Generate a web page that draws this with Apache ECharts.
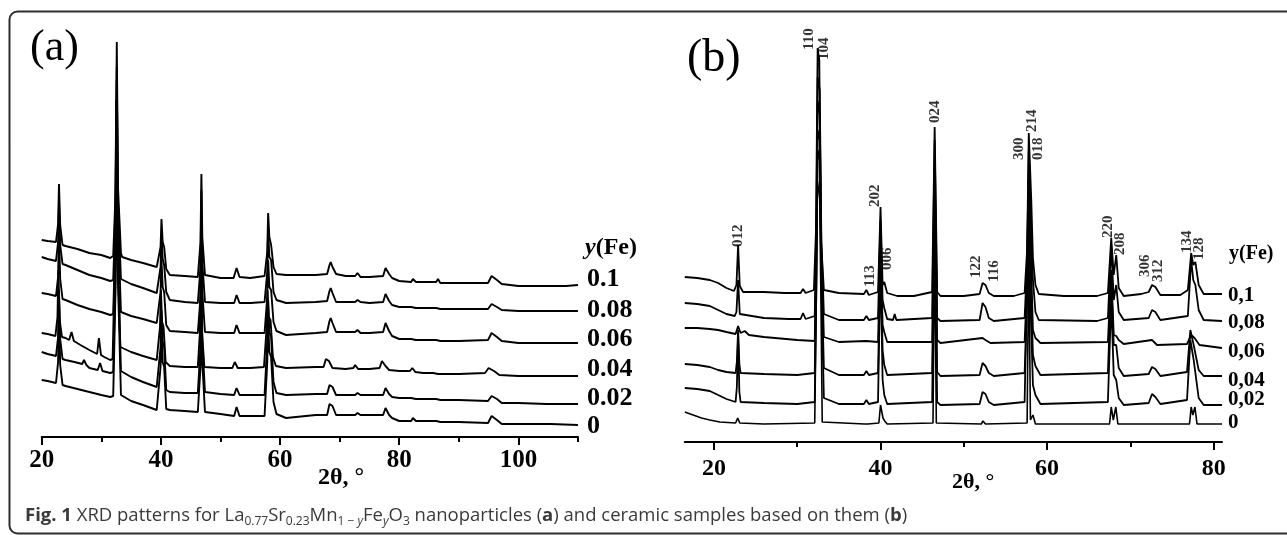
<!DOCTYPE html>
<html><head><meta charset="utf-8">
<script src="https://cdn.jsdelivr.net/npm/echarts@6/dist/echarts.min.js"></script>
<style>html,body{margin:0;padding:0;background:#fff}#c{width:1287px;height:535px}</style>
</head><body><div id="c"></div>
<script>
// ---------- Panel (a): nanoparticles, intensity (a.u., stacked) vs 2θ ----------
const aMajorTicks = [20, 40, 60, 80, 100];
const aMinorTicks = [30, 50, 70, 90, 110];
const aNames = ['0.1', '0.08', '0.06', '0.04', '0.02', '0'];
const a010 = [[20,197],[21,196],[22.4,195],[22.75,213],[22.9,253],[23.1,212],[23.5,192],[24,191],[26,188],[28,184],[30,182],[31.5,179],[32,181],[32.4,245],[32.6,395],[32.8,250],[33.3,184],[33.5,180],[35,177],[37,174],[39.3,170],[39.6,171],[39.95,190],[40.1,218],[40.3,195],[40.55,190],[40.9,168],[41.5,162],[44,161],[46.2,160],[46.3,161],[46.65,195],[46.8,263],[46.95,200],[47.4,162],[50,159],[52.2,159],[52.7,169],[53.2,160],[55,159],[57.4,161],[57.5,162],[57.85,185],[58,224],[58.2,200],[58.5,192],[58.9,170],[59.4,163],[61,162],[63,162],[66,162],[67.9,163],[68.3,172],[68.5,175],[68.8,170],[69.4,163],[71,161],[72.6,161],[73,164],[73.5,160],[75,160],[77.3,161],[77.7,169],[77.9,170],[78.3,163],[78.8,159],[80,156],[82,155],[82.3,158],[82.8,155],[84,155],[86.2,155],[86.5,158],[86.9,154],[90,154],[94.9,154],[95.5,161],[95.8,162],[96.4,157],[97.2,153],[100,151],[104.7,151],[105,153],[105.4,151],[108,151],[110,152]];
const a008 = [[20,180],[21,178],[22.4,176],[22.75,195],[22.9,235],[23.1,192],[23.5,173],[24,172],[26,167],[28,162],[30,159],[31.5,156],[32,157],[32.4,230],[32.6,370],[32.8,235],[33.3,158],[33.5,157],[35,153],[37,149],[39.3,144],[39.6,145],[39.95,170],[40.1,202],[40.3,178],[40.55,172],[40.9,145],[41.5,137],[44,135],[46.2,134],[46.3,135],[46.65,170],[46.8,247],[46.95,175],[47.4,135],[50,134],[52.3,134],[52.7,142],[53.2,134],[55,134],[57.4,135],[57.5,135],[57.85,165],[58,207],[58.2,180],[58.5,177],[58.9,145],[59.4,137],[61,134],[66,135],[67.9,136],[68.3,146],[68.5,149],[68.8,144],[69.4,135],[71,135],[72.6,135],[73,137],[73.5,135],[75,134],[77.3,135],[77.7,143],[77.9,144],[78.3,136],[78.8,132],[80,130],[82,130],[82.3,132],[82.8,129],[84,129],[86.2,129],[86.5,131],[86.9,128],[90,128],[94.9,128],[95.5,133],[95.8,134],[96.4,130],[97.2,127],[100,126],[104.7,126],[105,128],[105.4,126],[110,126]];
const a006 = [[20,144],[21,143],[22.4,141],[22.75,160],[22.9,207],[23.1,158],[23.5,138],[24,137],[26,132],[28,128],[30,125],[31.5,122],[32,123],[32.4,210],[32.6,357],[32.8,215],[33.3,125],[33.5,124],[35,121],[37,118],[39.3,114],[39.6,115],[39.95,145],[40.1,177],[40.3,150],[40.55,145],[40.9,112],[41.5,106],[44,105],[46.2,104],[46.3,105],[46.65,140],[46.8,217],[46.95,145],[47.4,105],[50,104],[52.3,104],[52.7,112],[53.2,104],[55,104],[57.4,104],[57.5,104],[57.85,140],[58,177],[58.2,150],[58.5,147],[58.9,115],[59.4,106],[61,102],[66,104],[67.9,105],[68.3,116],[68.5,119],[68.8,114],[69.4,105],[71,105],[72.6,105],[73,107],[73.5,104],[75,104],[77.3,105],[77.7,114],[77.9,115],[78.3,106],[78.8,101],[80,98],[82,98],[82.3,100],[82.8,97],[84,97],[86.2,97],[86.5,99],[86.9,96],[90,96],[94.9,97],[95.5,104],[95.8,105],[96.4,100],[97.2,96],[100,94],[104.7,94],[105,96],[105.4,94],[110,94]];
const a004 = [[20,104],[21,103],[22.3,101],[22.65,120],[22.8,167],[23,118],[23.4,100],[24,99],[24.6,97],[25,105],[25.4,96],[26.5,92],[28,87],[29.3,83],[29.6,99],[29.95,82],[30.5,80],[31.5,77],[31.9,78],[32.3,180],[32.5,337],[32.7,190],[33.2,90],[33.5,89],[35,85],[37,81],[39.3,77],[39.5,77],[39.85,110],[40,147],[40.2,115],[40.45,110],[40.8,75],[41.5,71],[44,70],[46.2,70],[46.55,105],[46.7,187],[46.85,110],[47.3,70],[50,69],[52,69],[52.4,75],[52.9,69],[55,69],[57.3,70],[57.4,70],[57.75,110],[57.9,147],[58.1,120],[58.4,117],[58.8,80],[59.3,71],[61,69],[66,70],[67.3,70],[67.7,78],[67.9,80],[68.2,76],[68.8,69],[71,68],[72.3,69],[72.6,72],[73.1,68],[75,68],[76.7,69],[77.1,76],[77.3,77],[77.7,71],[78.3,67],[80,66],[81.8,66],[82.2,69],[82.7,65],[84,64],[85.7,64],[86,66],[86.5,63],[90,63],[94.4,64],[95,69],[95.2,70],[95.9,66],[96.8,62],[100,61],[104.5,61],[104.8,62],[105.2,61],[110,61]];
const a002 = [[20,85],[21,83],[22.4,81],[22.75,100],[22.9,147],[23.1,98],[23.5,78],[24,77],[25.5,75],[26.8,73],[27.1,77],[27.5,72],[28,69],[29.4,67],[29.8,74],[30.2,66],[31.5,64],[32,65],[32.4,170],[32.6,317],[32.8,175],[33.3,66],[33.5,64],[35,60],[37,55],[39.3,50],[39.6,50],[39.95,90],[40.1,127],[40.3,95],[40.55,90],[40.9,47],[41.5,45],[44,44],[46.2,44],[46.3,45],[46.65,90],[46.8,167],[46.95,95],[47.4,45],[50,43],[52.3,42],[52.7,49],[53.2,42],[55,42],[57.4,42],[57.5,42],[57.85,95],[58,137],[58.2,105],[58.5,100],[58.9,55],[59.4,44],[61,42],[66,43],[67.9,43],[68.3,52],[68.5,54],[68.8,50],[69.4,42],[71,42],[72.6,42],[73,44],[73.5,42],[75,42],[77.3,42],[77.7,49],[77.9,50],[78.3,43],[78.8,40],[80,39],[82,39],[82.3,41],[82.8,38],[84,38],[86.2,38],[86.5,40],[86.9,37],[90,37],[94.9,36],[95.5,41],[95.8,42],[96.4,38],[97.2,34],[100,34],[104.7,33],[105,35],[105.4,33],[110,33]];
const a000 = [[20,57],[21,56],[22.4,54],[22.75,75],[22.9,137],[23.1,72],[23.5,52],[24,51],[26,48],[28,45],[30,42],[31.5,40],[32,41],[32.4,150],[32.6,287],[32.8,155],[33.3,42],[33.5,40],[35,36],[37,32],[39.3,27],[39.6,27],[39.95,70],[40.1,107],[40.3,75],[40.55,70],[40.9,28],[41.5,27],[44,26],[46.2,25],[46.3,25],[46.65,70],[46.8,147],[46.95,75],[47.4,25],[50,23],[52.3,21],[52.7,30],[53.2,21],[55,21],[57.4,21],[57.5,21],[57.85,75],[58,117],[58.2,85],[58.5,80],[58.9,35],[59.4,23],[61,19],[66,22],[67.9,22],[68.3,33],[68.5,35],[68.8,31],[69.4,22],[71,22],[72.6,22],[73,24],[73.5,22],[75,22],[77.3,22],[77.7,29],[77.9,30],[78.3,22],[78.8,19],[80,16],[82,16],[82.3,19],[82.8,16],[84,16],[86.2,16],[86.5,18],[86.9,15],[90,15],[94.9,14],[95.5,21],[95.8,22],[96.4,17],[97.2,13],[100,13],[104.7,13],[105,15],[105.4,13],[110,12]];

// ---------- Panel (b): ceramics ----------
const bMajorTicks = [20, 40, 60, 80];
const bMinorTicks = [30, 50, 70];
const bNames = ['0,1', '0,08', '0,06', '0,04', '0,02', '0'];
const b010 = [[16.5,165],[18,164],[19.5,162],[20.5,159],[21.5,154],[22.4,151],[22.7,157],[22.9,197],[23.1,156],[23.5,150],[26,150],[28.5,149],[30.4,149],[30.7,153],[31,149],[32,152],[32.25,212],[32.45,394],[32.65,382],[32.85,202],[33.2,152],[35,149],[38,148],[38.3,152],[38.6,147],[39.7,150],[40,235],[40.25,157],[40.45,160],[40.8,149],[42,146],[44,146],[46.2,150],[46.5,315],[46.8,150],[47.2,146],[50,146],[51.9,148],[52.25,159],[52.6,157],[53,149],[53.6,146],[56,146],[57.3,149],[57.6,192],[57.8,309],[58.1,242],[58.3,184],[58.6,157],[59,148],[62,146],[66,146],[67.3,149],[67.7,204],[68,167],[68.3,187],[68.6,154],[69.2,146],[71.3,148],[72.2,150],[72.6,157],[73,155],[73.6,147],[76,147],[76.9,152],[77.3,189],[77.55,177],[77.8,180],[78.2,157],[78.8,148],[81,148]];
const b008 = [[16.5,139],[18,138],[19.5,136],[20.5,132],[21.5,128],[22.5,126],[22.7,130],[22.9,162],[23.1,128],[23.3,126],[26,124],[29,123],[30.4,123],[30.7,129],[31,123],[32.1,126],[32.3,220],[32.45,365],[32.7,352],[32.9,200],[33.2,128],[35,122],[38,122],[38.3,126],[38.6,122],[39.7,124],[40,222],[40.25,142],[40.45,134],[40.8,123],[41.5,122],[41.7,128],[41.9,122],[46.2,124],[46.5,302],[46.8,124],[47.2,121],[51.9,122],[52.25,139],[52.6,135],[53,124],[53.6,121],[57.3,124],[57.6,180],[57.8,292],[58.1,202],[58.3,162],[58.6,130],[59,122],[66,121],[67.3,124],[67.7,197],[68,142],[68.3,157],[68.6,130],[69.2,122],[72.2,124],[72.6,132],[73,130],[73.6,122],[76.9,126],[77.3,182],[77.55,162],[77.8,157],[78.2,132],[78.8,122],[81,121]];
const b006 = [[16.5,114],[18,114],[19.5,113],[20.5,112],[21.5,110],[22.6,108],[22.9,116],[23.2,109],[23.7,111],[24.2,107],[26,105],[30,102],[32.1,101],[32.3,200],[32.45,342],[32.7,327],[32.9,190],[33.2,105],[35,100],[38.3,101],[39.7,100],[40,202],[40.25,117],[40.45,110],[40.8,100],[46.2,100],[46.5,277],[46.8,102],[47.2,99],[52.25,104],[52.6,102],[53.2,99],[57.3,100],[57.6,160],[57.8,267],[58.1,172],[58.3,112],[58.6,104],[59.2,99],[67.3,100],[67.7,172],[68,107],[68.3,106],[68.6,102],[69.2,98],[72.6,102],[73.2,97],[76.8,98],[77.3,107],[77.7,104],[78.3,97],[81,94]];
const b004 = [[16.5,78],[18,77],[19.5,75],[20.5,72],[21.5,70],[22.6,69],[22.75,80],[22.9,112],[23.05,78],[23.2,69],[26,68],[30,67],[32.1,69],[32.3,180],[32.45,312],[32.7,302],[32.9,170],[33.2,74],[35,67],[38,67],[38.3,71],[38.6,67],[39.7,69],[40,192],[40.25,92],[40.45,77],[40.8,67],[46.2,69],[46.5,252],[46.8,70],[47.2,66],[51.9,67],[52.25,79],[52.6,76],[53,69],[53.6,66],[57.3,69],[57.6,140],[57.8,242],[58.1,142],[58.3,87],[58.6,76],[59.2,67],[67.3,69],[67.7,162],[68,97],[68.3,97],[68.6,74],[69.2,66],[72.2,68],[72.6,75],[73,73],[73.6,66],[76.8,70],[77.2,112],[77.6,97],[78.2,72],[78.8,66],[81,66]];
const b002 = [[16.5,54],[18,53],[19.5,51],[20.5,47],[21.5,43],[22.6,40],[22.75,55],[22.9,107],[23.05,50],[23.2,40],[26,39],[30,38],[32.1,40],[32.3,160],[32.45,292],[32.7,282],[32.9,150],[33.2,44],[35,38],[38,38],[38.3,42],[38.6,38],[39.7,40],[40,182],[40.25,62],[40.45,47],[40.8,38],[46.2,40],[46.5,232],[46.8,40],[47.2,37],[51.9,38],[52.25,50],[52.6,48],[53,40],[53.6,37],[57.3,40],[57.5,120],[57.7,222],[58.1,112],[58.3,57],[58.6,47],[59.2,38],[67.3,40],[67.7,142],[68,67],[68.3,62],[68.6,44],[69.2,37],[72.2,39],[72.6,48],[73,45],[73.6,38],[76.8,42],[77.2,102],[77.6,82],[78.2,44],[78.8,37],[81,37]];
const b000 = [[16.5,30],[17.5,27],[18.5,24],[19.5,22],[20.7,20],[22.6,19],[22.85,24],[23.1,19],[26,18],[32.1,19],[32.3,150],[32.4,262],[32.6,250],[32.7,242],[32.85,140],[33,20],[38.1,18],[38.3,20],[38.5,18],[39.8,19],[40,37],[40.3,24],[40.5,21],[40.8,18],[46.3,19],[46.5,212],[46.7,19],[52.1,18],[52.3,21],[52.6,18],[57.6,19],[57.8,192],[58,22],[58.3,27],[58.6,18],[67.5,18],[67.7,35],[67.95,22],[68.25,35],[68.5,18],[72.5,18],[72.7,20],[73,18],[77.1,18],[77.3,35],[77.5,27],[77.75,35],[78,18],[81,18]];

// Miller-index annotations of panel (b): text, 2θ position, intensity of the label's foot
const hklText = ['012','110','104','113','202','006','024','122','116','300','214','018','220','208','306','312','134','128'];
const hklX    = [22.85, 31.4, 33.2, 38.8, 39.4, 40.85, 46.5, 51.5, 53.6, 56.7, 58.2, 58.9, 67.3, 68.8, 71.8, 73.3, 76.8, 78.3];
const hklY    = [195, 392, 382, 155, 235, 172, 319, 164, 160, 282, 310, 282, 204, 187, 165, 160, 189, 182];

const aSeriesData = [a010, a008, a006, a004, a002, a000];
const bSeriesData = [b010, b008, b006, b004, b002, b000];
const aLabelDy = [-6, -1, -4, -7, -6, 1];
const bLabelDy = [2, 2, 4, 5, -5, -1];

const SERIF = '"Liberation Serif", "Times New Roman", serif';
const SANS = '"Open Sans", sans-serif';
const chart = echarts.init(document.getElementById('c'), null, {renderer: 'canvas'});

function majorAxis(grid, min, max, ticks, labelMargin, fs) {
  return {
    type: 'value', gridIndex: grid, position: 'bottom', min: min, max: max,
    axisLine: {show: true, onZero: false, lineStyle: {color: '#000', width: 2}},
    axisTick: {show: true, customValues: ticks, length: 8, lineStyle: {color: '#000', width: 2}},
    axisLabel: {show: true, customValues: ticks, margin: labelMargin, color: '#000',
      fontFamily: SERIF, fontWeight: 'bold', fontSize: fs},
    splitLine: {show: false}
  };
}
function minorAxis(grid, min, max, ticks) {
  return {
    type: 'value', gridIndex: grid, position: 'bottom', min: min, max: max,
    axisLine: {show: false, onZero: false},
    axisTick: {show: true, customValues: ticks, length: 5, lineStyle: {color: '#000', width: 2}},
    axisLabel: {show: false}, splitLine: {show: false}
  };
}

const series = [];
aSeriesData.forEach((d, i) => series.push({
  type: 'line', name: aNames[i], xAxisIndex: 0, yAxisIndex: 0, data: d,
  symbol: 'none', lineStyle: {color: '#000', width: 1.9}, z: 3,
  endLabel: {show: true, formatter: aNames[i], distance: 9, offset: [0, aLabelDy[i]],
    color: '#000', fontFamily: SERIF, fontWeight: 'bold', fontSize: 26}
}));
bSeriesData.forEach((d, i) => series.push({
  type: 'line', name: bNames[i], xAxisIndex: 2, yAxisIndex: 1, data: d,
  symbol: 'none', lineStyle: {color: '#000', width: i === 5 ? 1.6 : 1.8}, z: 3,
  endLabel: {show: true, formatter: bNames[i], distance: 6, offset: [0, bLabelDy[i]],
    color: '#000', fontFamily: SERIF, fontWeight: 'bold', fontSize: 21}
}));
series.push({
  type: 'scatter', xAxisIndex: 2, yAxisIndex: 1, symbolSize: 0, silent: true, z: 4,
  data: hklX.map((x, i) => ({value: [x, hklY[i]], name: hklText[i]})),
  label: {show: true, position: 'inside', rotate: 90, align: 'left', verticalAlign: 'middle',
    formatter: p => p.name, color: '#000', fontFamily: SERIF, fontWeight: 'bold', fontSize: 15}
});

const option = {
  animation: false,
  backgroundColor: '#fff',
  grid: [
    {left: 41.7, top: 37, width: 536.3, height: 400, containLabel: false},
    {left: 684.8, top: 42, width: 537.2, height: 400, containLabel: false}
  ],
  xAxis: [
    majorAxis(0, 20, 110, aMajorTicks, 11, 25),
    minorAxis(0, 20, 110, aMinorTicks),
    majorAxis(1, 16.5, 81, bMajorTicks, 15, 24),
    minorAxis(1, 16.5, 81, bMinorTicks)
  ],
  yAxis: [
    {type: 'value', gridIndex: 0, min: 0, max: 400, show: false},
    {type: 'value', gridIndex: 1, min: 0, max: 400, show: false}
  ],
  series: series,
  graphic: [
    {type: 'rect', shape: {x: 9.5, y: 11.5, width: 1290, height: 522, r: 8},
     style: {fill: 'none', stroke: '#2e2e2e', lineWidth: 2}, silent: true},
    {type: 'text', left: 30, top: 26, style: {text: '(a)', font: 'normal 44px ' + SERIF, fill: '#000'}},
    {type: 'text', left: 687, top: 36, style: {text: '(b)', font: 'normal 46px ' + SERIF, fill: '#000'}},
    {type: 'text', left: 585, top: 236, style: {text: '{i|y}(Fe)', font: 'bold 24px ' + SERIF, fill: '#000',
      rich: {i: {fontStyle: 'italic', fontWeight: 'bold', fontSize: 24, fontFamily: SERIF}}}},
    {type: 'text', left: 1229, top: 244, style: {text: 'y(Fe)', font: 'bold 20px ' + SERIF, fill: '#000'}},
    {type: 'text', left: 318, top: 466, style: {text: '2θ, °', font: 'bold 24px ' + SERIF, fill: '#000'}},
    {type: 'text', left: 952, top: 471, style: {text: '2θ, °', font: 'bold 22px ' + SERIF, fill: '#000'}},
    {type: 'text', left: 25, top: 506, style: {
      text: '{b|Fig. 1} XRD patterns for La{s|0.77}Sr{s|0.23}Mn{s|1 − }{si|y}Fe{si|y}O{s|3} nanoparticles ({b|a}) and ceramic samples based on them ({b|b})',
      font: 'normal 18.5px ' + SANS, fill: '#3a3a3a',
      rich: {
        b: {fontWeight: 'bold', fontSize: 18.5, fontFamily: SANS, lineHeight: 24, verticalAlign: 'middle', color: '#2a2a2a'},
        s: {fontSize: 12, fontFamily: SANS, lineHeight: 13, verticalAlign: 'bottom'},
        si: {fontSize: 12, fontStyle: 'italic', fontFamily: SANS, lineHeight: 13, verticalAlign: 'bottom'}
      }
    }}
  ]
};
chart.setOption(option);
</script></body></html>
